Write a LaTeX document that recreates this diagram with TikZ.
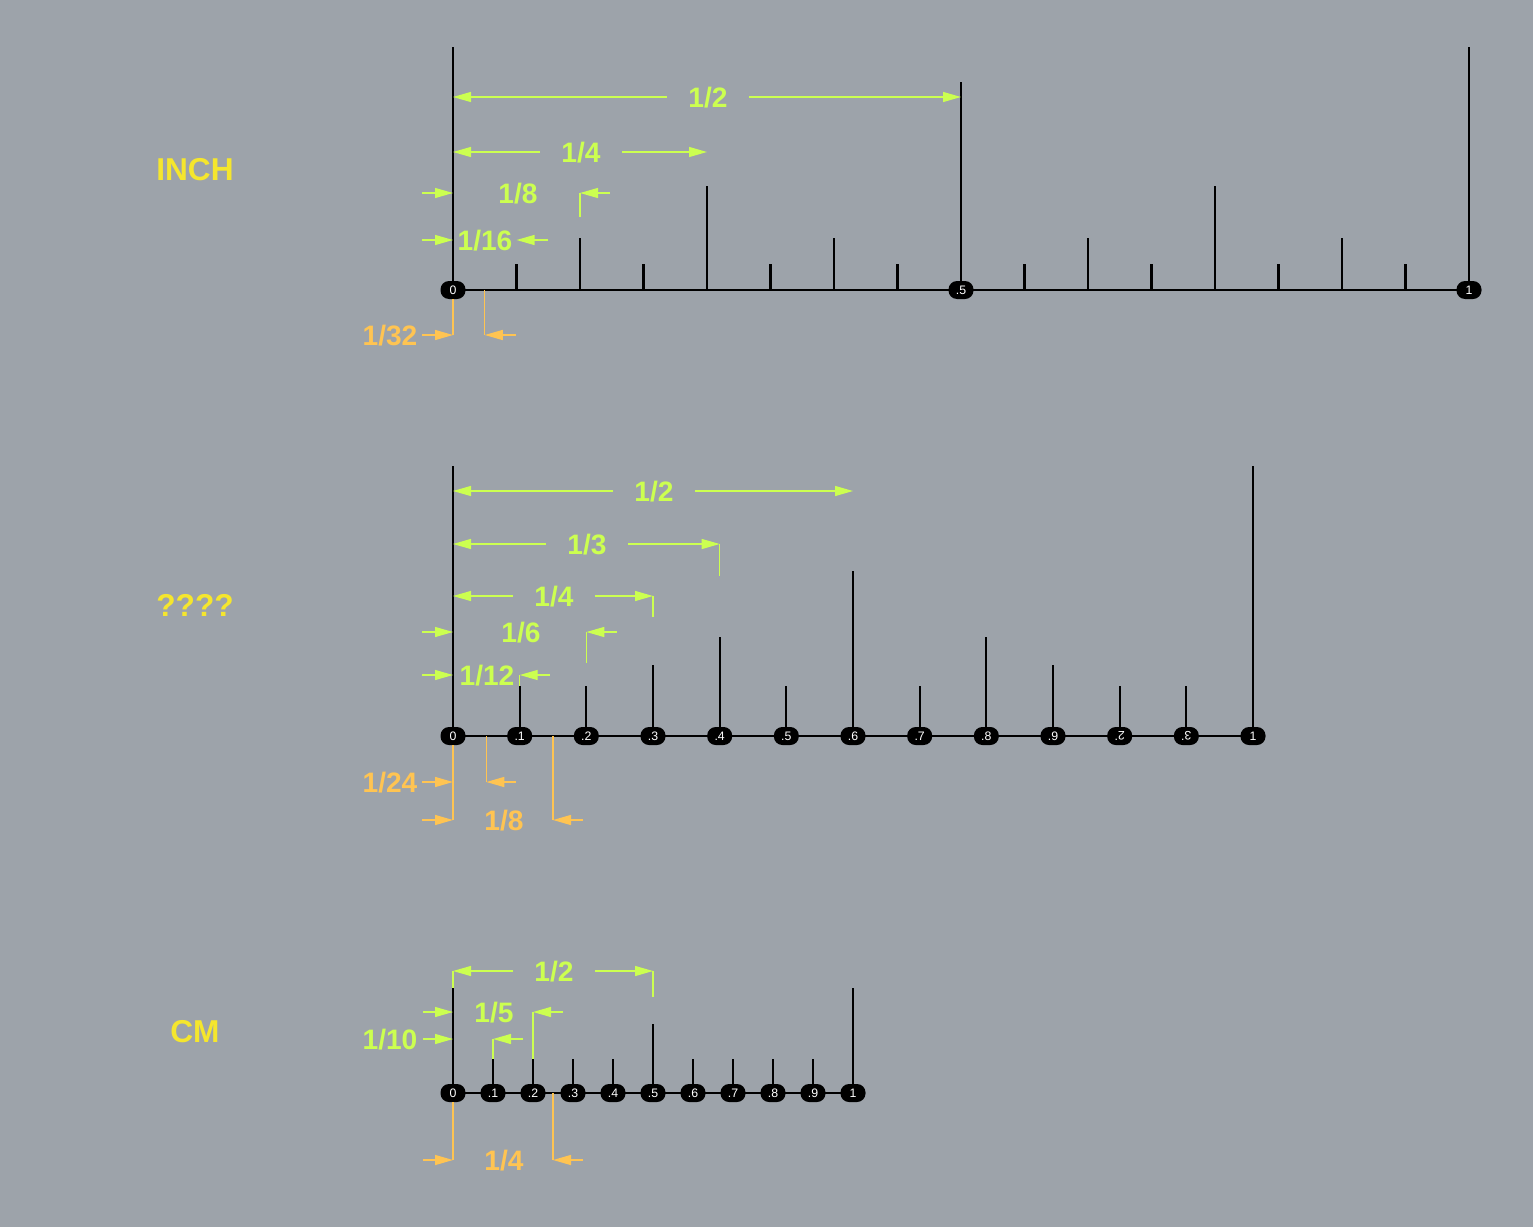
\documentclass[tikz,border=0pt]{standalone}
\usepackage{fontspec}
\setmainfont{Liberation Sans}
\usetikzlibrary{arrows.meta}
\definecolor{bgray}{RGB}{157,163,170}
\definecolor{dimgreen}{RGB}{204,255,80}
\definecolor{dimorange}{RGB}{255,196,82}
\definecolor{ttlyellow}{RGB}{245,230,45}
\newcommand{\turned}[1]{\rotatebox[origin=c]{180}{#1}}
\begin{document}
\begin{tikzpicture}[x=0.02cm,y=-0.02cm,>={Triangle[length=0.36cm,width=0.2cm]},
	rule/.style={line width=1.2pt},
	pill/.style={fill=black,text=white,rounded corners=0.17cm,minimum width=0.5cm,minimum height=0.36cm,inner sep=0pt,font=\fontsize{7}{8}\selectfont},
	grn/.style={dimgreen,line width=0.7pt},
	org/.style={dimorange,line width=0.8pt},
	lbl/.style={font=\fontsize{16}{18}\selectfont\bfseries,text height=11.5pt,text depth=0pt,inner sep=0pt},
	gap/.style={lbl,inner xsep=0.42cm},
	title/.style={font=\fontsize{18}{20}\selectfont\bfseries,text=ttlyellow}]
	\fill[bgray] (0,0) rectangle (1533,1227);
	% Tiêu đề
	\node[title] (tinch) at (195,170) {INCH};
	\node[title] (tdoz) at (195,605) {????};
	\node[title] (tcm) at (195,1032) {CM};
	
	% ---- INCH ----
	\foreach \i/\h in {0/243,1/26,2/52,3/26,4/104,5/26,6/52,7/26,8/208,9/26,10/52,11/26,12/104,13/26,14/52,15/26,16/243}{
		\coordinate (in\i) at (453+63.5*\i,290);
		\draw[rule] (in\i) -- ++(0,-\h);
	}
	\draw[rule] (in0) -- (in16);
	\node[pill] (ip0) at (in0) {0};
	\node[pill] (ip8) at (in8) {.5};
	\node[pill] (ip16) at (in16) {1};
	\coordinate (i32) at (484.75,290);
	
	\node[gap,text=dimgreen] (ihalf) at (708,97) {1/2};
	\draw[grn,->] (ihalf) -- (in0 |- ihalf);
	\draw[grn,->] (ihalf) -- (in8 |- ihalf);
	\node[gap,text=dimgreen] (iquarter) at (581,152) {1/4};
	\draw[grn,->] (iquarter) -- (in0 |- iquarter);
	\draw[grn,->] (iquarter) -- (in4 |- iquarter);
	\node[lbl,text=dimgreen] (ieighth) at (518,193) {1/8};
	\draw[grn,<-] (in0 |- ieighth) -- ++(-31,0);
	\draw[grn,<-] (in2 |- ieighth) -- ++(30,0);
	\draw[grn] (in2 |- ieighth) -- ++(0,24);
	\node[lbl,text=dimgreen] (isixteenth) at (485,240) {1/16};
	\draw[grn,<-] (in0 |- isixteenth) -- ++(-31,0);
	\draw[grn,<-] (in1 |- isixteenth) -- ++(31,0);
	\node[lbl,text=dimorange] (ithirtytwo) at (390,335) {1/32};
	\draw[org] (ip0.south) -- (ip0.south |- ithirtytwo);
	\draw[org] (i32) -- (i32 |- ithirtytwo);
	\draw[org,<-] (in0 |- ithirtytwo) -- ++(-31,0);
	\draw[org,<-] (i32 |- ithirtytwo) -- ++(31,0);
	
	% ---- ???? ----
	\foreach \i/\h in {0/270,1/50,2/50,3/71,4/99,5/50,6/165,7/50,8/99,9/71,10/50,11/50,12/270}{
		\coordinate (dz\i) at (453+800/12*\i,736);
		\draw[rule] (dz\i) -- ++(0,-\h);
	}
	\draw[rule] (dz0) -- (dz12);
	\foreach \i/\lab in {0/0,1/.1,2/.2,3/.3,4/.4,5/.5,6/.6,7/.7,8/.8,9/.9,10/.\turned{2},11/.\turned{3},12/1}
		\node[pill] (dp\i) at (dz\i) {\lab};
	\coordinate (d24) at (486.3,736);
	\coordinate (d8) at (553,736);
	
	\node[gap,text=dimgreen] (dhalf) at (654,491) {1/2};
	\draw[grn,->] (dhalf) -- (dz0 |- dhalf);
	\draw[grn,->] (dhalf) -- (dz6 |- dhalf);
	\node[gap,text=dimgreen] (dthird) at (587,544) {1/3};
	\draw[grn,->] (dthird) -- (dz0 |- dthird);
	\draw[grn,->] (dthird) -- (dz4 |- dthird);
	\draw[grn] (dz4 |- dthird) -- ++(0,32);
	\node[gap,text=dimgreen] (dquarter) at (554,596) {1/4};
	\draw[grn,->] (dquarter) -- (dz0 |- dquarter);
	\draw[grn,->] (dquarter) -- (dz3 |- dquarter);
	\draw[grn] (dz3 |- dquarter) -- ++(0,21);
	\node[lbl,text=dimgreen] (dsixth) at (521,632) {1/6};
	\draw[grn,<-] (dz0 |- dsixth) -- ++(-31,0);
	\draw[grn,<-] (dz2 |- dsixth) -- ++(31,0);
	\draw[grn] (dz2 |- dsixth) -- ++(0,31);
	\node[lbl,text=dimgreen] (dtwelfth) at (487,675) {1/12};
	\draw[grn,<-] (dz0 |- dtwelfth) -- ++(-31,0);
	\draw[grn,<-] (dz1 |- dtwelfth) -- ++(30,0);
	\draw[grn] (dz1 |- dtwelfth) -- ++(0,11);
	\node[lbl,text=dimorange] (dtwentyfourth) at (390,782) {1/24};
	\node[lbl,text=dimorange] (deighth) at (504,820) {1/8};
	\draw[org] (dp0.south) -- (dp0.south |- deighth);
	\draw[org] (d24) -- (d24 |- dtwentyfourth);
	\draw[org] (d8) -- (d8 |- deighth);
	\draw[org,<-] (dz0 |- dtwentyfourth) -- ++(-31,0);
	\draw[org,<-] (d24 |- dtwentyfourth) -- ++(30,0);
	\draw[org,<-] (dz0 |- deighth) -- ++(-31,0);
	\draw[org,<-] (d8 |- deighth) -- ++(30,0);
	
	% ---- CM ----
	\foreach \i/\h in {0/105,1/34,2/34,3/34,4/34,5/69,6/34,7/34,8/34,9/34,10/105}{
		\coordinate (cm\i) at (453+40*\i,1093);
		\draw[rule] (cm\i) -- ++(0,-\h);
	}
	\draw[rule] (cm0) -- (cm10);
	\foreach \i/\lab in {0/0,1/.1,2/.2,3/.3,4/.4,5/.5,6/.6,7/.7,8/.8,9/.9,10/1}
		\node[pill] (cp\i) at (cm\i) {\lab};
	\coordinate (c4) at (553,1093);
	
	\node[gap,text=dimgreen] (chalf) at (554,971) {1/2};
	\draw[grn,->] (chalf) -- (cm0 |- chalf);
	\draw[grn,->] (chalf) -- (cm5 |- chalf);
	\draw[grn] (cm0 |- chalf) -- ++(0,17);
	\draw[grn] (cm5 |- chalf) -- ++(0,26);
	\node[lbl,text=dimgreen] (cfifth) at (494,1012) {1/5};
	\draw[grn,<-] (cm0 |- cfifth) -- ++(-30,0);
	\draw[grn,<-] (cm2 |- cfifth) -- ++(30,0);
	\draw[grn] (cm2 |- cfifth) -- ++(0,47);
	\node[lbl,text=dimgreen] (ctenth) at (390,1039) {1/10};
	\draw[grn,<-] (cm0 |- ctenth) -- ++(-30,0);
	\draw[grn,<-] (cm1 |- ctenth) -- ++(30,0);
	\draw[grn] (cm1 |- ctenth) -- ++(0,20);
	\node[lbl,text=dimorange] (cquarter) at (504,1160) {1/4};
	\draw[org] (cp0.south) -- (cp0.south |- cquarter);
	\draw[org] (c4) -- (c4 |- cquarter);
	\draw[org,<-] (cm0 |- cquarter) -- ++(-30,0);
	\draw[org,<-] (c4 |- cquarter) -- ++(30,0);
\end{tikzpicture}
\end{document}
